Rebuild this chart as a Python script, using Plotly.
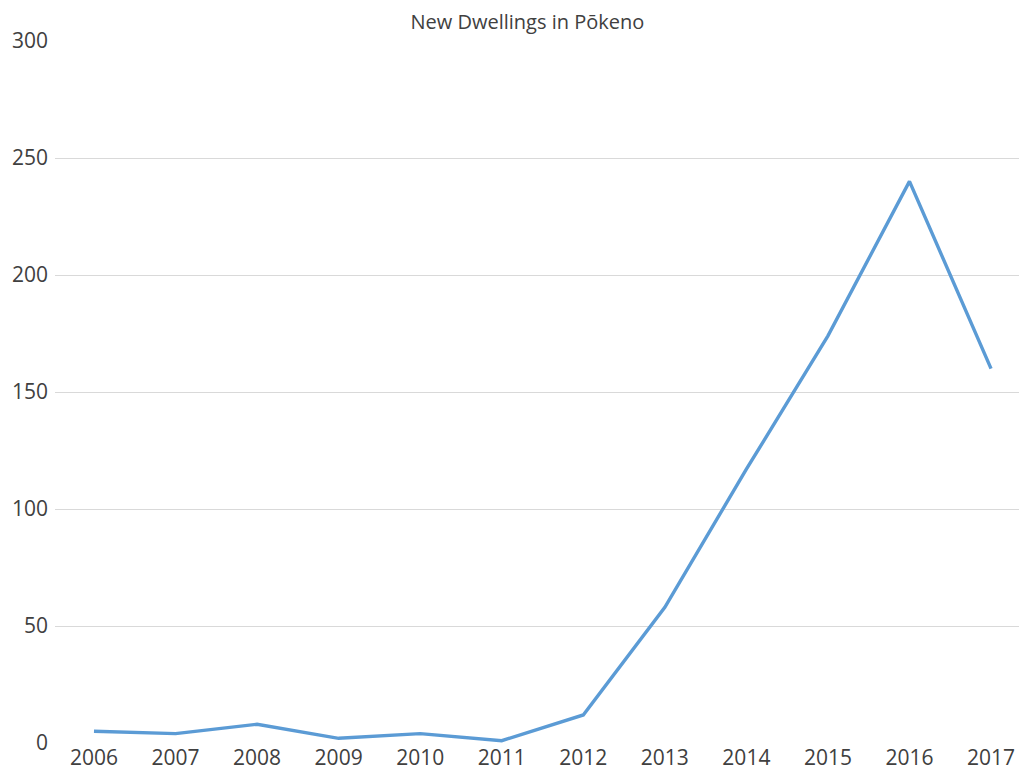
import plotly.graph_objects as go

years = [2006, 2007, 2008, 2009, 2010, 2011, 2012, 2013, 2014, 2015, 2016, 2017]
dwellings = [5, 4, 8, 2, 4, 1, 12, 58, 117, 174, 240, 160]
y_ticks = [0, 50, 100, 150, 200, 250, 300]

fig = go.Figure()
fig.add_trace(go.Scatter(
    x=list(range(len(years))), y=dwellings, mode="lines",
    line=dict(color="#5B9BD5", width=3.4),
    hoverinfo="skip", showlegend=False,
))

fig.update_layout(
    width=1019, height=771,
    margin=dict(l=55, r=0, t=41, b=28),
    paper_bgcolor="white", plot_bgcolor="white",
    font=dict(family="Open Sans, Liberation Sans, sans-serif", color="#404040"),
    title=dict(text="New Dwellings in Pōkeno", x=0.49, xref="paper", xanchor="center",
               y=1 - 22 / 771, yref="container", yanchor="middle",
               font=dict(size=20, color="#404040")),
)
fig.update_xaxes(
    range=[-0.478, 11.343], tickmode="array",
    tickvals=list(range(len(years))), ticktext=[str(y) for y in years],
    showgrid=False, zeroline=False, showline=False, ticks="",
    tickfont=dict(size=21, color="#404040"), automargin=False,
    ticklabelstandoff=0,
)
fig.update_yaxes(
    range=[0, 300], tickmode="array", tickvals=y_ticks,
    showgrid=True, gridcolor="#D9D9D9", gridwidth=1.3,
    zeroline=False, showline=False, ticks="",
    tickfont=dict(size=21, color="#404040"), automargin=False,
    ticklabelstandoff=6,
)
fig.write_html(
    "out.html",
    config={"displayModeBar": False},
    post_script="document.body.style.margin='0';document.body.style.overflow='hidden';",
)
